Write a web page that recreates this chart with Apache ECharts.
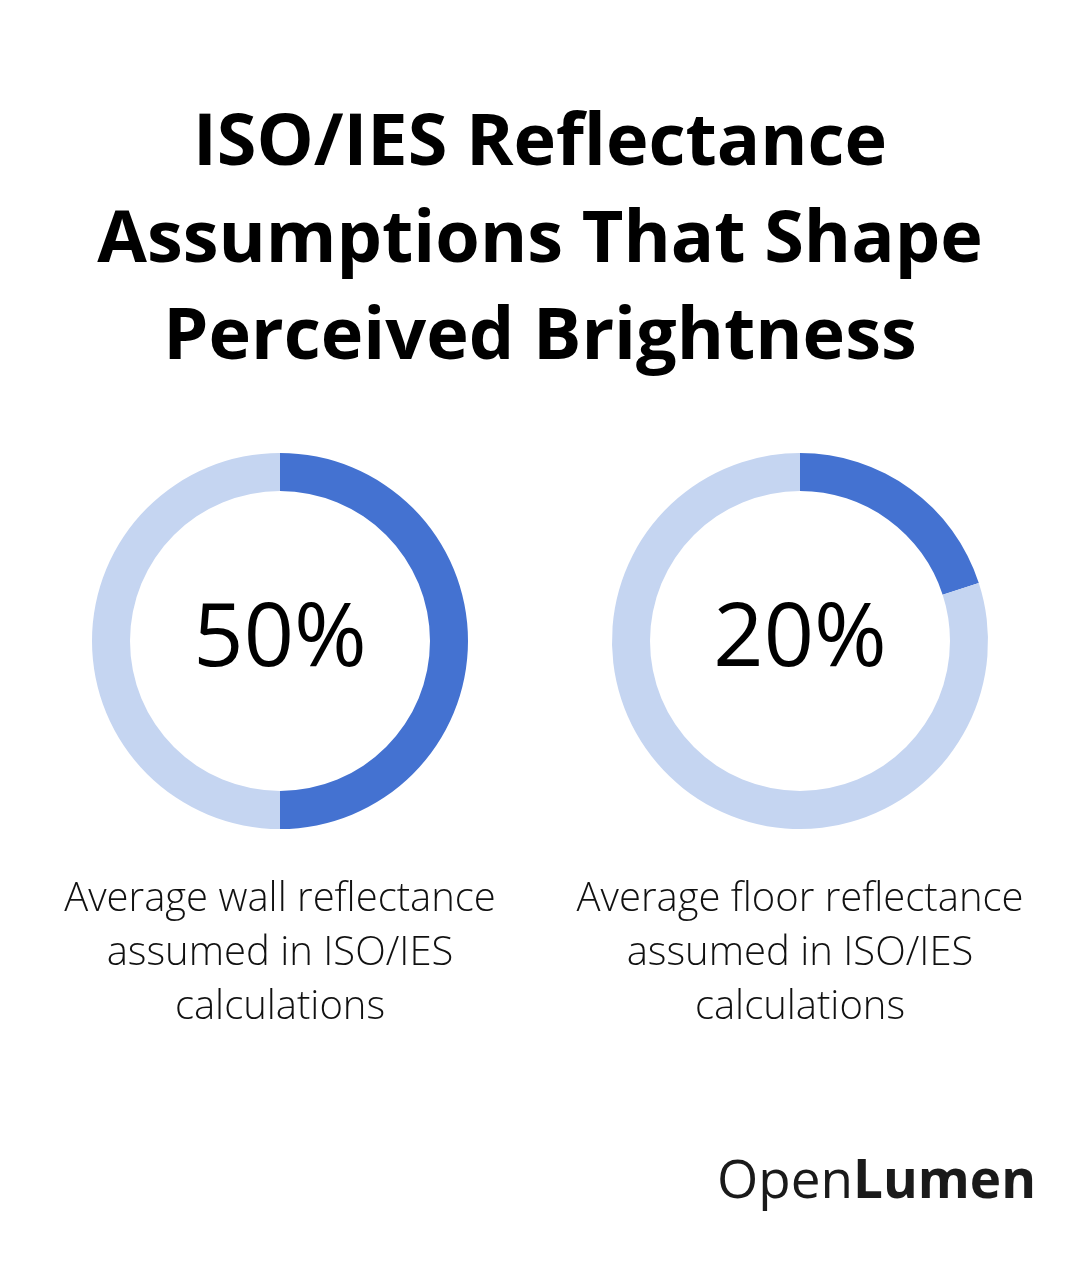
<!DOCTYPE html>
<html>
<head>
<meta charset="utf-8">
<script src="https://cdn.jsdelivr.net/npm/echarts@6/dist/echarts.min.js"></script>
<style>
  html, body { margin: 0; padding: 0; background: #ffffff; }
  #main { width: 1080px; height: 1262px; }
</style>
</head>
<body>
<div id="main"></div>
<script>
  // data
  var titleLines = ['ISO/IES Reflectance', 'Assumptions That Shape', 'Perceived Brightness'];
  var percents = [50, 20];
  var captions = [
    'Average wall reflectance\nassumed in ISO/IES\ncalculations',
    'Average floor reflectance\nassumed in ISO/IES\ncalculations'
  ];
  var centersX = [280, 800];

  var darkBlue = '#4472d1';
  var lightBlue = '#c5d5f1';

  var myChart = echarts.init(document.getElementById('main'));

  var series = percents.map(function (p, i) {
    return {
      type: 'pie',
      center: [centersX[i], 641],
      radius: [150, 188],
      startAngle: 90,
      clockwise: true,
      silent: true,
      label: { show: false },
      labelLine: { show: false },
      data: [
        { value: p, itemStyle: { color: darkBlue } },
        { value: 100 - p, itemStyle: { color: lightBlue } }
      ]
    };
  });

  var graphics = [];

  // title, centred line by line
  graphics.push({
    type: 'text',
    x: 540, y: 96,
    style: {
      text: titleLines.join('\n'),
      font: 'bold 72px "Open Sans"',
      lineHeight: 97,
      fill: '#000000',
      textAlign: 'center',
      textVerticalAlign: 'top'
    }
  });

  percents.forEach(function (p, i) {
    graphics.push({
      type: 'text',
      x: centersX[i], y: 641,
      style: {
        text: p + '%',
        font: '500 88px "Open Sans"',
        fill: '#000000',
        textAlign: 'center',
        textVerticalAlign: 'middle'
      }
    });
    graphics.push({
      type: 'text',
      x: centersX[i], y: 873,
      style: {
        text: captions[i],
        font: '300 40px "Open Sans"',
        lineHeight: 54,
        fill: '#111111',
        textAlign: 'center',
        textVerticalAlign: 'top'
      }
    });
  });

  // logo
  graphics.push({
    type: 'text',
    right: 44, top: 1156,
    style: {
      text: '{a|Open}{b|Lumen}',
      rich: {
        a: { font: '400 53px "Open Sans"', fill: '#1a1a1a' },
        b: { font: '700 53px "Open Sans"', fill: '#1a1a1a' }
      }
    }
  });

  myChart.setOption({
    backgroundColor: '#ffffff',
    animation: false,
    series: series,
    graphic: graphics
  });
</script>
</body>
</html>
